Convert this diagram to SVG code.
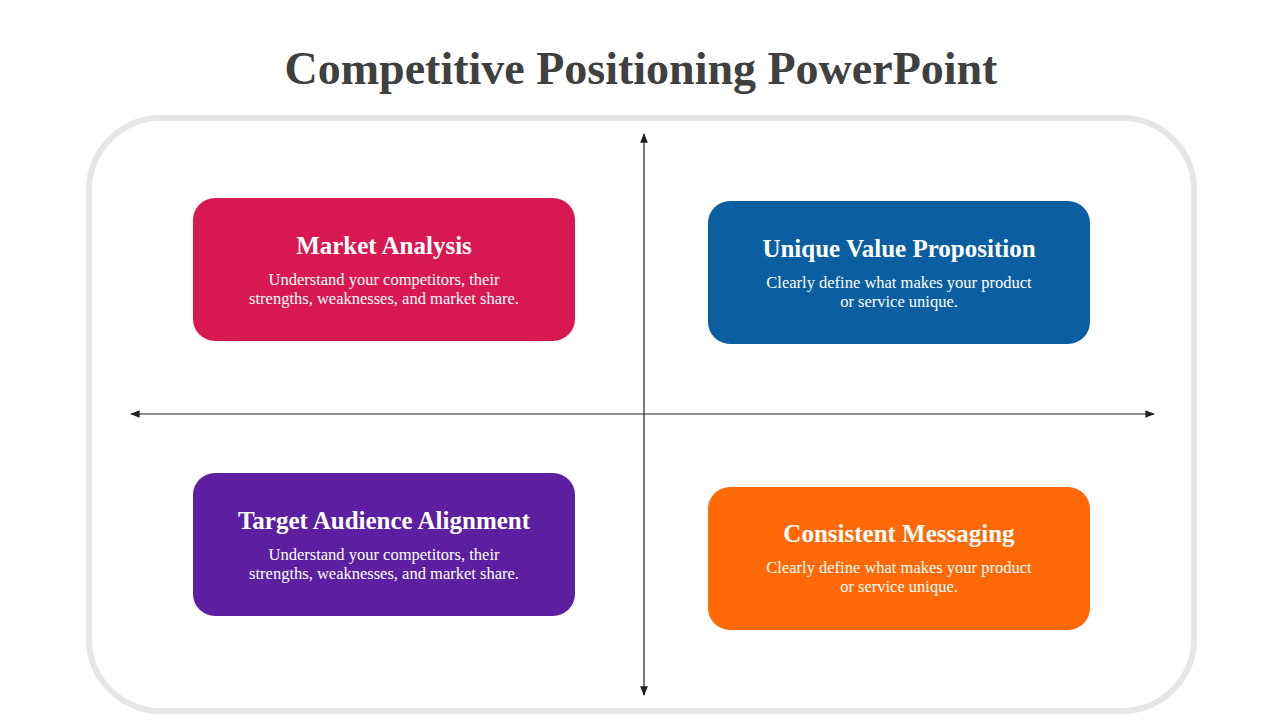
<svg xmlns="http://www.w3.org/2000/svg" width="1280" height="720" viewBox="0 0 1280 720">
<style>
.t{font-family:"Liberation Serif","DejaVu Serif",serif;font-weight:bold;fill:#fff;font-size:25px;text-anchor:middle}
.d{font-family:"Liberation Serif","DejaVu Serif",serif;fill:#fff;font-size:16.5px;text-anchor:middle}
.ax{stroke:#222;stroke-width:1.2;fill:none}
</style>
<defs>
<marker id="ar" viewBox="0 0 10 10" refX="9" refY="5" markerWidth="8" markerHeight="8" orient="auto-start-reverse"><path d="M0,1 L10,5 L0,9 Z" fill="#222"/></marker>
</defs>
<rect width="1280" height="720" fill="#fff"/>
<text x="641" y="84" font-family="Liberation Serif,DejaVu Serif,serif" font-weight="bold" font-size="46" fill="#404040" text-anchor="middle">Competitive Positioning PowerPoint</text>
<rect x="89" y="118" width="1105" height="593" rx="72" fill="#fff" stroke="#e6e6e6" stroke-width="6"/>
<g id="connectors">
<line class="ax" x1="131" y1="414" x2="1154" y2="414" marker-start="url(#ar)" marker-end="url(#ar)"/>
<line class="ax" x1="644" y1="134" x2="644" y2="695" marker-start="url(#ar)" marker-end="url(#ar)"/>
</g>
<g id="market">
<rect x="193" y="198" width="382" height="143" rx="22" fill="#d81852"/>
<text class="t" x="384" y="254">Market Analysis</text>
<text class="d" x="384" y="285">Understand your competitors, their</text>
<text class="d" x="384" y="304">strengths, weaknesses, and market share.</text>
</g>
<g id="unique">
<rect x="708" y="201" width="382" height="143" rx="22" fill="#0b5fa0"/>
<text class="t" x="899" y="257">Unique Value Proposition</text>
<text class="d" x="899" y="288">Clearly define what makes your product</text>
<text class="d" x="899" y="307">or service unique.</text>
</g>
<g id="target">
<rect x="193" y="473" width="382" height="143" rx="22" fill="#5b1fa0"/>
<text class="t" x="384" y="529">Target Audience Alignment</text>
<text class="d" x="384" y="560">Understand your competitors, their</text>
<text class="d" x="384" y="579">strengths, weaknesses, and market share.</text>
</g>
<g id="consistent">
<rect x="708" y="487" width="382" height="143" rx="22" fill="#ff6a06"/>
<text class="t" x="899" y="542">Consistent Messaging</text>
<text class="d" x="899" y="573">Clearly define what makes your product</text>
<text class="d" x="899" y="592">or service unique.</text>
</g>
</svg>
